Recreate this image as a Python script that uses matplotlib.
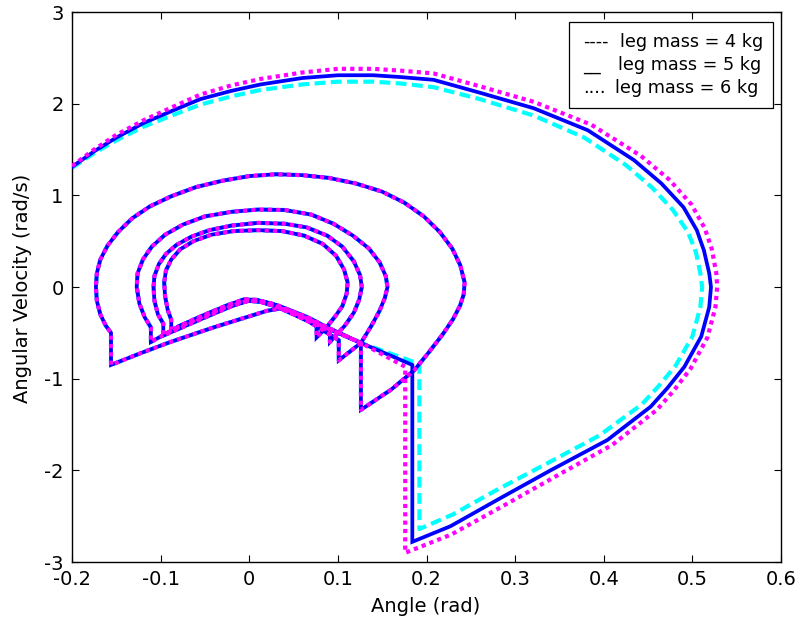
import matplotlib
matplotlib.use('Agg')
import matplotlib.pyplot as plt
from matplotlib.patches import Rectangle

plt.rcParams['font.family'] = ['DejaVu Sans']

# ---------------- data (angle in rad, angular velocity in rad/s) ----------------
# outer (first) swing loop for each leg mass, ending with the velocity jump
outer_x_4kg = [-0.200, -0.175, -0.150, -0.119, -0.085, -0.055, -0.020, 0.013, 0.060, 0.100,
               0.140, 0.171, 0.208, 0.260, 0.321, 0.378, 0.425, 0.455, 0.478, 0.495,
               0.504, 0.509, 0.511, 0.509, 0.500, 0.481, 0.462, 0.443, 0.395, 0.333,
               0.278, 0.230, 0.192, 0.192]
outer_y_4kg = [1.30, 1.46, 1.60, 1.75, 1.88, 1.99, 2.08, 2.15, 2.21, 2.24,
               2.24, 2.22, 2.18, 2.05, 1.87, 1.63, 1.33, 1.08, 0.84, 0.60,
               0.38, 0.15, 0.00, -0.22, -0.54, -0.86, -1.08, -1.28, -1.62, -1.94,
               -2.22, -2.48, -2.64, -0.84]

outer_x_5kg = [-0.200, -0.175, -0.150, -0.119, -0.085, -0.055, -0.020, 0.013, 0.060, 0.100,
               0.140, 0.171, 0.208, 0.260, 0.321, 0.382, 0.434, 0.465, 0.490, 0.505,
               0.513, 0.519, 0.521, 0.519, 0.510, 0.491, 0.472, 0.453, 0.404, 0.340,
               0.284, 0.227, 0.184, 0.184]
outer_y_5kg = [1.31, 1.48, 1.63, 1.79, 1.93, 2.05, 2.14, 2.21, 2.28, 2.31,
               2.31, 2.29, 2.26, 2.12, 1.95, 1.71, 1.385, 1.13, 0.87, 0.62,
               0.40, 0.15, 0.00, -0.22, -0.54, -0.87, -1.10, -1.305, -1.67, -2.00,
               -2.30, -2.61, -2.78, -0.85]

outer_x_6kg = [-0.200, -0.175, -0.150, -0.119, -0.085, -0.055, -0.020, 0.013, 0.060, 0.100,
               0.140, 0.171, 0.208, 0.260, 0.321, 0.386, 0.442, 0.474, 0.499, 0.514,
               0.522, 0.527, 0.528, 0.526, 0.517, 0.498, 0.479, 0.460, 0.410, 0.345,
               0.288, 0.228, 0.176, 0.176]
outer_y_6kg = [1.32, 1.50, 1.66, 1.82, 1.97, 2.10, 2.20, 2.27, 2.34, 2.38,
               2.38, 2.36, 2.33, 2.19, 2.02, 1.77, 1.43, 1.17, 0.90, 0.64,
               0.41, 0.15, 0.00, -0.22, -0.55, -0.89, -1.13, -1.34, -1.72, -2.07,
               -2.38, -2.70, -2.90, -0.87]

# following stance / swing phases (practically identical for the three masses)
# stance 1
tent1_x = [0.126, 0.088, 0.066, 0.045, 0.035, 0.020, 0.000, -0.040, -0.089, -0.122, -0.156]
tent1_y = [-0.61, -0.45, -0.345, -0.255, -0.235, -0.26, -0.32, -0.44, -0.60, -0.72, -0.85]
# swing 2
loopA_x = [-0.156, -0.162, -0.168, -0.172, -0.173, -0.172, -0.168, -0.160, -0.148, -0.132,
           -0.112, -0.088, -0.060, -0.030, 0.000, 0.030, 0.060, 0.090, 0.120, 0.150,
           0.175, 0.197, 0.215, 0.229, 0.238, 0.243, 0.242, 0.238, 0.230, 0.218,
           0.202, 0.186, 0.160, 0.126]
loopA_y = [-0.50, -0.42, -0.30, -0.15, 0.00, 0.15, 0.30, 0.45, 0.60, 0.75,
           0.88, 0.99, 1.09, 1.16, 1.21, 1.23, 1.22, 1.19, 1.13, 1.04,
           0.92, 0.77, 0.60, 0.42, 0.24, 0.05, -0.08, -0.20, -0.35, -0.52,
           -0.72, -0.91, -1.12, -1.34]
# stance 2
tent2_x = [0.126, 0.088, 0.066, 0.032, 0.015, 0.000, -0.020, -0.047, -0.085, -0.111]
tent2_y = [-0.61, -0.44, -0.33, -0.20, -0.16, -0.15, -0.20, -0.30, -0.46, -0.60]
# swing 3
loopB_x = [-0.111, -0.118, -0.124, -0.127, -0.126, -0.120, -0.110, -0.095, -0.075, -0.050,
           -0.020, 0.010, 0.040, 0.070, 0.095, 0.117, 0.135, 0.147, 0.154, 0.156,
           0.153, 0.147, 0.138, 0.126, 0.101]
loopB_y = [-0.44, -0.33, -0.18, 0.00, 0.15, 0.30, 0.44, 0.57, 0.68, 0.77,
           0.82, 0.845, 0.84, 0.79, 0.69, 0.56, 0.42, 0.27, 0.12, 0.00,
           -0.12, -0.26, -0.42, -0.61, -0.80]
# stance 3
tent3_x = [0.101, 0.066, 0.032, 0.012, -0.002, -0.020, -0.047, -0.085, -0.097]
tent3_y = [-0.58, -0.37, -0.22, -0.16, -0.15, -0.21, -0.32, -0.48, -0.53]
# swing 4
loopC_x = [-0.097, -0.103, -0.107, -0.108, -0.107, -0.102, -0.094, -0.082, -0.065, -0.045,
           -0.020, 0.010, 0.040, 0.065, 0.088, 0.105, 0.118, 0.125, 0.127, 0.124,
           0.118, 0.108, 0.091]
loopC_y = [-0.40, -0.30, -0.15, 0.00, 0.12, 0.25, 0.36, 0.46, 0.55, 0.62,
           0.67, 0.70, 0.69, 0.65, 0.56, 0.44, 0.28, 0.13, 0.00, -0.14,
           -0.28, -0.42, -0.60]
# stance 4
tent4_x = [0.091, 0.066, 0.032, 0.010, -0.004, -0.020, -0.047, -0.088]
tent4_y = [-0.48, -0.36, -0.215, -0.15, -0.14, -0.19, -0.30, -0.47]
# swing 5
loopD_x = [-0.088, -0.092, -0.095, -0.096, -0.094, -0.088, -0.078, -0.063, -0.043, -0.018,
           0.010, 0.037, 0.062, 0.083, 0.098, 0.107, 0.111, 0.110, 0.105, 0.097,
           0.088, 0.076]
loopD_y = [-0.36, -0.25, -0.10, 0.05, 0.18, 0.30, 0.41, 0.50, 0.57, 0.61,
           0.62, 0.61, 0.56, 0.47, 0.34, 0.19, 0.05, -0.07, -0.21, -0.32,
           -0.43, -0.55]
# stance 5
tent5_x = [0.076, 0.050, 0.025, 0.008, -0.006, -0.025, -0.050, -0.080]
tent5_y = [-0.42, -0.29, -0.18, -0.14, -0.135, -0.20, -0.30, -0.43]

legend_labels = ['leg mass = 4 kg', 'leg mass = 5 kg', 'leg mass = 6 kg']
legend_marks = ['----', '__', '....']
x_ticks = [-0.2, -0.1, 0.0, 0.1, 0.2, 0.3, 0.4, 0.5, 0.6]
x_tick_labels = ['-0.2', '-0.1', '0', '0.1', '0.2', '0.3', '0.4', '0.5', '0.6']
y_ticks = [-3, -2, -1, 0, 1, 2, 3]
y_tick_labels = ['-3', '-2', '-1', '0', '1', '2', '3']

inner_x = tent1_x + loopA_x + tent2_x + loopB_x + tent3_x + loopC_x + tent4_x + loopD_x + tent5_x
inner_y = tent1_y + loopA_y + tent2_y + loopB_y + tent3_y + loopC_y + tent4_y + loopD_y + tent5_y

# ---------------- figure ----------------
W, H = 801, 627
fig = plt.figure(figsize=(W / 100, H / 100), dpi=100)
ax = fig.add_axes([72 / W, 65 / H, 709 / W, 550 / H])

ax.plot(outer_x_4kg + inner_x, outer_y_4kg + inner_y, color='#00FFFF',
        lw=3.0, linestyle=(0, (2.6, 1.3)), dash_capstyle='butt',
        solid_joinstyle='miter', zorder=2)
ax.plot(outer_x_5kg + inner_x, outer_y_5kg + inner_y, color='#0000FF',
        lw=2.7, linestyle='-', solid_joinstyle='miter', zorder=3)
ax.plot(outer_x_6kg + inner_x, outer_y_6kg + inner_y, color='#FF00FF',
        lw=3.0, linestyle=(0, (1.0, 1.0)), dash_capstyle='butt', zorder=4)

ax.set_xlim(-0.2, 0.6)
ax.set_ylim(-3, 3)
ax.set_xticks(x_ticks)
ax.set_xticklabels(x_tick_labels)
ax.set_yticks(y_ticks)
ax.set_yticklabels(y_tick_labels)
ax.tick_params(direction='in', top=True, right=True, length=5, width=0.8,
               labelsize=14, pad=6, colors='black')
for s in ax.spines.values():
    s.set_linewidth(1.0)
    s.set_color('black')

fig.text(426 / W, 1 - 606 / H, 'Angle (rad)', ha='center', va='center', fontsize=14)
fig.text(23 / W, 1 - 288 / H, 'Angular Velocity (rad/s)', ha='center', va='center',
         rotation=90, fontsize=14)

# legend box (text-only legend as in the original)
bx0, bx1 = 569, 773
by0, by1 = 22, 108
fig.patches.append(Rectangle((bx0 / W, 1 - by1 / H), (bx1 - bx0) / W, (by1 - by0) / H,
                             transform=fig.transFigure, facecolor='white',
                             edgecolor='black', lw=0.9, zorder=10))
row_y = [42, 65, 88]
text_x = [620, 618, 615]
for lbl, mk, ry, tx in zip(legend_labels, legend_marks, row_y, text_x):
    fig.text(583 / W, 1 - ry / H, mk, ha='left', va='center', fontsize=12.7, zorder=11)
    fig.text(tx / W, 1 - ry / H, lbl, ha='left', va='center', fontsize=12.7, zorder=11)

fig.savefig('out.png', dpi=100)
